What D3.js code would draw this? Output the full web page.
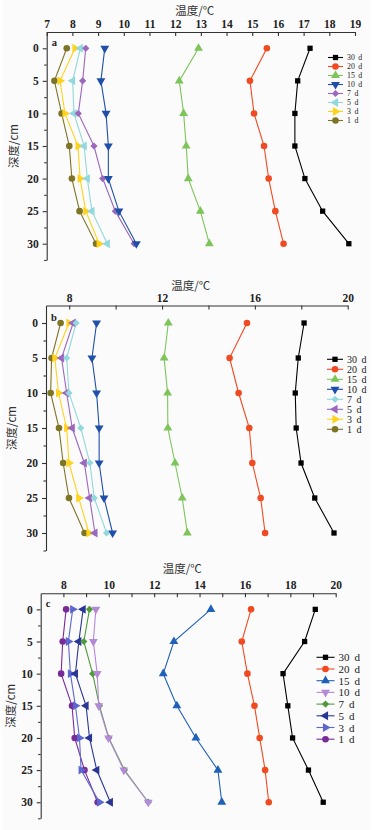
<!DOCTYPE html>
<html lang="zh">
<head>
<meta charset="UTF-8">
<title>温度随深度变化</title>
<script src="https://d3js.org/d3.v7.min.js"></script>
<style>
  html, body { margin: 0; padding: 0; background: #fff; }
  svg { display: block; }
  .tick text { font-family: "Liberation Serif", "DejaVu Serif", serif; font-weight: bold; fill: #222; }
</style>
</head>
<body>
<svg id="chart"></svg>
<script>
const depths = [0, 5, 10, 15, 20, 25, 30];
const seriesNames = ["30 d", "20 d", "15 d", "10 d", "7 d", "5 d", "3 d", "1 d"];

// panel a temperatures (same order as seriesNames)
const tempsA = [
  [17.25, 16.77, 16.66, 16.66, 17.05, 17.74, 18.76],
  [15.57, 14.91, 15.07, 15.46, 15.64, 15.90, 16.22],
  [12.91, 12.16, 12.33, 12.43, 12.51, 12.98, 13.33],
  [9.26, 9.11, 9.31, 9.40, 9.40, 9.81, 10.49],
  [8.52, 8.40, 8.23, 8.84, 9.18, 9.67, 10.40],
  [8.31, 8.01, 8.06, 8.46, 8.58, 8.76, 9.36],
  [8.10, 7.52, 7.71, 8.22, 8.30, 8.52, 9.04],
  [7.78, 7.30, 7.58, 7.88, 7.98, 8.28, 8.92]
];
// panel b
const tempsB = [
  [18.12, 17.87, 17.74, 17.78, 17.99, 18.58, 19.41],
  [15.66, 14.91, 15.30, 15.76, 15.89, 16.25, 16.44],
  [12.27, 12.09, 12.24, 12.25, 12.56, 12.87, 13.09],
  [9.18, 8.98, 9.18, 9.29, 9.29, 9.50, 9.87],
  [8.30, 7.89, 7.99, 8.50, 8.89, 9.08, 9.61],
  [8.17, 7.67, 7.89, 8.13, 8.65, 8.88, 9.11],
  [7.99, 7.38, 7.54, 7.89, 7.99, 8.41, 8.85],
  [7.63, 7.24, 7.20, 7.56, 7.74, 7.99, 8.66]
];
// panel c
const tempsC = [
  [19.10, 18.63, 17.68, 17.89, 18.10, 18.80, 19.45],
  [16.27, 15.86, 16.11, 16.42, 16.65, 16.89, 17.05],
  [14.50, 12.87, 12.40, 13.00, 13.84, 14.81, 14.98],
  [9.43, 9.32, 9.49, 9.56, 9.99, 10.66, 11.74],
  [9.15, 8.90, 9.29, 9.59, 10.00, 10.69, 11.74],
  [8.87, 8.68, 8.53, 9.00, 9.15, 9.47, 10.07],
  [8.41, 8.22, 8.31, 8.53, 8.71, 8.78, 9.59],
  [8.12, 7.97, 7.90, 8.38, 8.50, 8.93, 9.51]
];

const xTicksA = d3.range(7, 20, 1);
const xTicksB = d3.range(8, 21, 2);
const xTicksC = d3.range(8, 21, 1);
const yTicks = [0, 5, 10, 15, 20, 25, 30];
const yMinor = [2.5, 7.5, 12.5, 17.5, 22.5, 27.5, 32.5];

const colorsA = ["#000000", "#f04a22", "#7dc45a", "#1f4fa8", "#9a68bd", "#92d8dc", "#ffd21e", "#7e7426"];
const colorsB = ["#000000", "#f04a22", "#7dc45a", "#1f4fa8", "#92d8dc", "#9a68bd", "#ffd21e", "#7e7426"];
const colorsC = ["#000000", "#f04a22", "#1f60b8", "#b48ad8", "#4f9a3a", "#2a3696", "#5b67cf", "#7a2a98"];

const shapes = ["square", "circle", "up", "down", "diamond", "left", "right", "circle"];

const width = 375, height = 830;
const svg = d3.select("#chart").attr("width", width).attr("height", height);
svg.append("rect").attr("x", 2).attr("y", 0).attr("width", 368).attr("height", height).attr("fill", "#fbfbfb");

function marker(shape) {
  if (shape === "square") return {path: d3.symbol(d3.symbolSquare, 28)(), rot: 0};
  if (shape === "circle") return {path: d3.symbol(d3.symbolCircle, 34)(), rot: 0};
  if (shape === "diamond") return {path: d3.symbol(d3.symbolSquare, 26)(), rot: 45};
  const rot = {up: 0, down: 180, left: -90, right: 90}[shape];
  return {path: d3.symbol(d3.symbolTriangle, 34)(), rot: rot};
}

const panels = [
  {temps: tempsA, colors: colorsA, letter: "a",
   xDomain: [7, 19], xRange: [46.7, 355], yRange: [32, 260],
   ticks: xTicksA, labelled: v => true, titleY: 15, yLabelX: 13,
   legX: 328, legLen: 15, legY: 57.5, legDy: 9, legFont: 7.8},
  {temps: tempsB, colors: colorsB, letter: "b",
   xDomain: [7, 20], xRange: [46, 347.7], yRange: [305.5, 550.5],
   ticks: xTicksB, labelled: v => v % 4 === 0, titleY: 290, yLabelX: 11,
   legX: 327, legLen: 16, legY: 359.3, legDy: 10, legFont: 10},
  {temps: tempsC, colors: colorsC, letter: "c",
   xDomain: [7, 20], xRange: [40.7, 335.7], yRange: [593.3, 818.3],
   ticks: xTicksC, labelled: v => v % 2 === 0, titleY: 573, yLabelX: 10,
   legX: 316.5, legLen: 18, legY: 657.3, legDy: 11.7, legFont: 11}
];

panels.forEach(function(p) {
  const x = d3.scaleLinear().domain(p.xDomain).range(p.xRange);
  const y = d3.scaleLinear().domain([-2.5, 32.5]).range(p.yRange);
  const top = p.yRange[0];
  const g = svg.append("g");

  // x axis on top, ticks pointing into the plot
  const xa = g.append("g").attr("transform", "translate(0," + top + ")")
    .call(d3.axisTop(x).tickValues(p.ticks).tickSizeInner(-4).tickSizeOuter(0).tickPadding(4)
      .tickFormat(v => p.labelled(v) ? d3.format("d")(v) : ""));
  xa.selectAll("text").attr("font-size", 11.5);

  // y axis
  const ya = g.append("g").attr("transform", "translate(" + p.xRange[0] + ",0)")
    .call(d3.axisLeft(y).tickValues(yTicks).tickSizeInner(4).tickSizeOuter(0).tickPadding(4));
  ya.selectAll("text").attr("font-size", 11.5);
  g.append("g").attr("transform", "translate(" + p.xRange[0] + ",0)")
    .call(d3.axisLeft(y).tickValues(yMinor).tickSize(2.5).tickFormat(""))
    .select(".domain").remove();
  g.selectAll(".domain, .tick line").attr("stroke", "#333").attr("stroke-width", 1.1);

  // titles
  g.append("text").attr("x", (p.xRange[0] + p.xRange[1]) / 2 - 6).attr("y", p.titleY)
    .attr("text-anchor", "middle").attr("font-family", "Noto Sans CJK SC")
    .attr("font-size", 11.5).attr("fill", "#333").text("温度/℃");
  const cy = (p.yRange[0] + p.yRange[1]) / 2;
  g.append("text").attr("transform", "translate(" + p.yLabelX + "," + cy + ") rotate(-90)")
    .attr("text-anchor", "middle").attr("dominant-baseline", "central")
    .attr("font-family", "Noto Sans CJK SC").attr("font-size", 11.5).attr("fill", "#333")
    .text("深度/cm");
  g.append("text").attr("x", p.xRange[0] + 5).attr("y", y(0) - 2.5)
    .attr("font-family", "Liberation Serif").attr("font-weight", "bold")
    .attr("font-size", 10.5).attr("fill", "#222").text(p.letter);

  const line = d3.line().x(d => x(d[0])).y(d => y(d[1]));

  // draw from 1 d upward so hotter series sit on top
  for (let i = seriesNames.length - 1; i >= 0; i--) {
    const pts = p.temps[i].map((t, k) => [t, depths[k]]);
    const col = p.colors[i];
    const m = marker(shapes[i]);
    g.append("path").datum(pts).attr("d", line)
      .attr("fill", "none").attr("stroke", col).attr("stroke-width", 1.1);
    g.selectAll(null).data(pts).enter().append("path")
      .attr("d", m.path)
      .attr("transform", d => "translate(" + x(d[0]) + "," + y(d[1]) + ") rotate(" + m.rot + ")")
      .attr("fill", col);
  }

  // legend
  const leg = g.append("g");
  seriesNames.forEach(function(name, i) {
    const ly = p.legY + i * p.legDy;
    const col = p.colors[i];
    const m = marker(shapes[i]);
    leg.append("line").attr("x1", p.legX).attr("x2", p.legX + p.legLen)
      .attr("y1", ly).attr("y2", ly).attr("stroke", col).attr("stroke-width", 1.1);
    leg.append("path").attr("d", m.path)
      .attr("transform", "translate(" + (p.legX + p.legLen / 2) + "," + ly + ") rotate(" + m.rot + ")")
      .attr("fill", col);
    leg.append("text").attr("x", p.legX + p.legLen + 4).attr("y", ly)
      .attr("dominant-baseline", "central")
      .attr("font-family", "Liberation Serif").attr("font-size", p.legFont)
      .attr("fill", "#222").attr("xml:space", "preserve").text(name.replace(" ", "\u2009 "));
  });
});
</script>
</body>
</html>
